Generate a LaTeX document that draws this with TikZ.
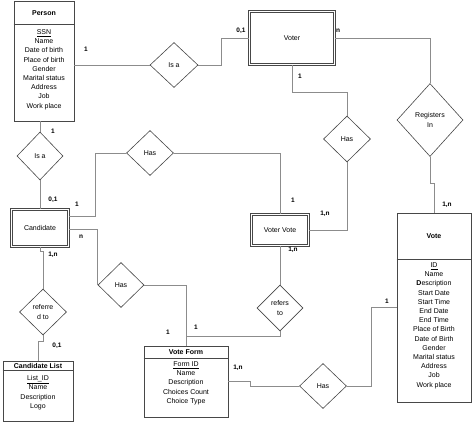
\documentclass[tikz,border=0pt]{standalone}
\usepackage{fontspec}
\setmainfont{Liberation Sans}
\usetikzlibrary{shapes.geometric}
\tikzset{
  ent/.style={rectangle, draw=black!72, line width=0.7pt, inner sep=0pt},
  went/.style={rectangle, draw=black!72, line width=0.6pt, double=white, double distance=1.6pt, inner sep=0pt},
  rel/.style={diamond, draw=black!72, line width=0.6pt, inner sep=0pt, align=center},
  conn/.style={draw=black!45, line width=0.6pt},
  divline/.style={draw=black!72, line width=0.7pt},
  ttl/.style={inner sep=0pt, font=\fontsize{7}{9.2}\selectfont\bfseries},
  attr/.style={inner sep=0pt, align=center, anchor=north, font=\fontsize{7}{9.2}\selectfont},
  card/.style={inner sep=0pt, font=\fontsize{6.5}{8}\selectfont\bfseries}
}
\begin{document}
\begin{tikzpicture}[x=1pt,y=-1pt, font=\fontsize{7}{9.2}\selectfont]
\useasboundingbox (0,0) rectangle (474,423);

% ---- entities
\node[ent, minimum width=60pt, minimum height=120pt] (person) at (44,61) {};
\node[ttl] (personT) at (44,13) {Person};
\draw[divline] ([yshift=-24pt]person.north west) -- ([yshift=-24pt]person.north east);
\node[attr] (personA) at (44,29.5) {\underline{SSN}\\Name\\Date of birth\\Place of birth\\Gender\\Marital status\\Address\\Job\\Work place};

\node[went, minimum width=85pt, minimum height=53pt] (voter) at (292,38) {Voter};

\node[ent, minimum width=74pt, minimum height=189pt] (vote) at (434,307.5) {};
\node[ttl] (voteT) at (434,236) {Vote};
\draw[divline] ([yshift=-47pt]vote.north west) -- ([yshift=-47pt]vote.north east);
\node[attr] (voteA) at (434,262.5) {\underline{ID}\\Name\\\textbf{D}escription\\Start Date\\Start Time\\End Date\\End Time\\Place of Birth\\Date of Birth\\Gender\\Marital status\\Address\\Job\\Work place};

\node[went, minimum width=57pt, minimum height=31pt] (votervote) at (280,230) {Voter Vote};

\node[went, minimum width=57pt, minimum height=37pt] (candidate) at (40,228) {Candidate};

\node[ent, minimum width=70pt, minimum height=60.5pt] (candlist) at (38,391.25) {};
\node[ttl] (candlistT) at (38,366) {Candidate List};
\draw[divline] ([yshift=-10pt]candlist.north west) -- ([yshift=-10pt]candlist.north east);
\node[attr] (candlistA) at (38,375.5) {\underline{List\_ID}\\Name\\Description\\Logo};

\node[ent, minimum width=84pt, minimum height=71pt] (voteform) at (186,381.5) {};
\node[ttl] (voteformT) at (186,352.5) {Vote Form};
\draw[divline] ([yshift=-13pt]voteform.north west) -- ([yshift=-13pt]voteform.north east);
\node[attr] (voteformA) at (186,361.5) {\underline{Form ID}\\Name\\Description\\Choices Count\\Choice Type};

% ---- relationships
\node[rel, minimum width=48pt, minimum height=45pt] (isa1) at (174,65) {Is a};
\node[rel, minimum width=47pt, minimum height=46pt] (hasR) at (347,139) {Has};
\node[rel, minimum width=66pt, minimum height=73pt] (regin) at (430,120) {Registers\\In};
\node[rel, minimum width=47pt, minimum height=45pt] (hasM) at (150,153) {Has};
\node[rel, minimum width=46pt, minimum height=48pt] (isa2) at (40,156) {Is a};
\node[rel, minimum width=46pt, minimum height=45pt] (hasL) at (121,285) {Has};
\node[rel, minimum width=47pt, minimum height=46pt] (referred) at (43,312) {referre\\d to};
\node[rel, minimum width=46pt, minimum height=46pt] (referto) at (280,308) {refers\\to};
\node[rel, minimum width=47pt, minimum height=45pt] (hasB) at (323,386) {Has};

% ---- connectors
\draw[conn] (isa1.west -| person.east) -- (isa1.west);
\draw[conn] (isa1.east) -- ++(23,0) |- (voter.west);
\draw[conn] (voter.south) -- ++(0,27) -| (hasR.north);
\draw[conn] (hasR.south) |- (votervote.east);
\draw[conn] (voter.east) -| (regin.north);
\draw[conn] (regin.south) -- ++(0,26) -| (vote.north);
\draw[conn] (votervote.north) |- (hasM.east);
\draw[conn] (hasM.west) -- ++(-31,0) |- ([yshift=12pt]candidate.east);
\draw[conn] ([yshift=-1pt]candidate.east) -| (hasL.west);
\draw[conn] (hasL.east) -| (voteform.north);
\draw[conn] ([yshift=9pt]voteform.north) -| (referto.south);
\draw[conn] (referto.north) -- (votervote.south);
\draw[conn] (voteform.east) -- ++(22,0) |- (hasB.west);
\draw[conn] (hasB.east) -- ++(24,0) |- (vote.west);
\draw[conn] (person.south -| isa2.north) -- (isa2.north);
\draw[conn] (isa2.south) -- (candidate.north);
\draw[conn] (candidate.south) -- ++(0,4) -| (referred.north);
\draw[conn] (referred.south) -- ++(0,6) -| (candlist.north);

% ---- cardinalities
\node[card] (c1) at (86,49) {1};
\node[card] (c2) at (241,31) {0,1};
\node[card] (c3) at (300,76) {1};
\node[card] (c4) at (338,31) {n};
\node[card] (c5) at (447,205) {1,n};
\node[card] (c6) at (325,214) {1,n};
\node[card] (c7) at (293,200) {1};
\node[card] (c8) at (293,250) {1,n};
\node[card] (c9) at (53,131) {1};
\node[card] (c10) at (53,200) {0,1};
\node[card] (c11) at (77,204) {1};
\node[card] (c12) at (81,237) {n};
\node[card] (c13) at (53,255) {1,n};
\node[card] (c14) at (57,346) {0,1};
\node[card] (c15) at (168,332) {1};
\node[card] (c16) at (196,327) {1};
\node[card] (c17) at (238,368) {1,n};
\node[card] (c18) at (387,301) {1};
\end{tikzpicture}
\end{document}
